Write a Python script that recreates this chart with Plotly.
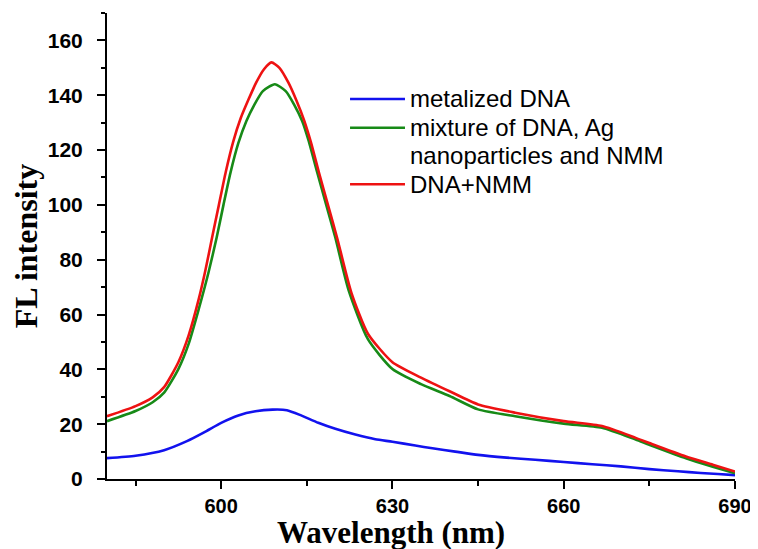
import plotly.graph_objects as go

# ---- data ----
wl_metal = [580, 585, 590, 594, 597, 600, 603, 606, 609, 611.5, 614, 617, 620, 623.5, 627,
            630, 634, 637, 641, 645, 650, 655, 660, 665, 670, 675, 680, 684, 687, 690]
fl_metal = [7.6, 8.5, 10.5, 13.8, 17.0, 20.5, 23.2, 24.7, 25.3, 25.1, 23.2, 20.5, 18.3, 16.2, 14.5,
            13.6, 12.2, 11.2, 10.0, 8.8, 7.8, 7.0, 6.2, 5.4, 4.6, 3.6, 2.8, 2.2, 1.8, 1.4]

wl_mix = [580, 585, 588, 590, 592.5, 594.3, 596.1, 597.8, 599.2, 600.4, 601.6, 603.0, 604.4, 605.8,
          607.3, 609.4, 611.3, 612.8, 614.2, 615.3, 616.8, 618.4, 620, 622.3, 625.7, 630, 635,
          640, 645, 651.5, 660, 666.7, 672.6, 675, 681.4, 686.1, 690]
fl_mix = [21.1, 24.8, 28.0, 31.5, 40.1, 49.3, 62.2, 75.5, 88, 100, 111.5, 122.5, 130.5, 136.5,
          141.5, 144, 141.5, 136.5, 130.5, 123.5, 112, 100, 88, 69, 51, 40.1, 34.6,
          30.3, 25.4, 22.9, 20.2, 18.7, 14.4, 12.5, 7.6, 4.5, 2.1]

wl_nmm = [580, 585, 588, 590, 592.5, 594.3, 596.1, 597.2, 598.4, 599.6, 600.8, 602.1, 603.4,
          604.8, 606.1, 607.5, 608.8, 610.2, 611.8, 613.2, 614.5, 615.7, 617.1, 618.7, 620.3,
          622.8, 625.7, 630, 635, 640, 645, 651.5, 660, 666.7, 672.6, 675, 681.4, 686.1, 690]
fl_nmm = [22.9, 26.6, 29.8, 33.5, 42.6, 52.4, 65.9, 75.8, 88, 100, 112, 123, 131.5,
          138.5, 144.5, 149.5, 152, 150, 144.5, 138, 131, 123, 112, 100, 88,
          68, 53, 42.6, 37, 32, 27.2, 24.2, 21.1, 19.3, 15, 13.1, 8.2, 5.2, 2.7]

series_names = ["metalized DNA", "mixture of DNA, Ag nanoparticles and NMM", "DNA+NMM"]
legend_lines = [["metalized DNA"], ["mixture of DNA, Ag", "nanoparticles and NMM"], ["DNA+NMM"]]
colors = ["#1212ee", "#178a17", "#ee1212"]

x_ticks = [600, 630, 660, 690]
y_ticks = [0, 20, 40, 60, 80, 100, 120, 140, 160]

fig = go.Figure()
for wl, fl, nm, col in [(wl_metal, fl_metal, series_names[0], colors[0]),
                        (wl_mix, fl_mix, series_names[1], colors[1]),
                        (wl_nmm, fl_nmm, series_names[2], colors[2])]:
    fig.add_trace(go.Scatter(x=wl, y=fl, mode="lines", name=nm, showlegend=False,
                             line=dict(color=col, width=2.6, shape="spline", smoothing=0.6)))

tickfont = dict(family="Arial, Liberation Sans, sans-serif", size=20, color="black", weight="bold")
titlefont = dict(family="Times New Roman, Liberation Serif, serif", size=32, color="black", weight="bold")
xtitlefont = dict(family="Times New Roman, Liberation Serif, serif", size=31, color="black", weight="bold")
legfont = dict(family="Arial, Liberation Sans, sans-serif", size=24, color="black")

# legend drawn as line samples + text (layout positions in paper units)
shapes = []
annotations = []
leg_line_y = [0.8155, 0.7539, 0.6324]
row_step = 0.0595
for i, col in enumerate(colors):
    shapes.append(dict(type="line", xref="paper", yref="paper",
                       x0=0.387, x1=0.4745, y0=leg_line_y[i], y1=leg_line_y[i],
                       line=dict(color=col, width=2.6)))
    for j, txt in enumerate(legend_lines[i]):
        annotations.append(dict(text=txt, xref="paper", yref="paper",
                                x=0.479, y=leg_line_y[i] - j * row_step,
                                xanchor="left", yanchor="middle", showarrow=False,
                                font=legfont))

annotations.append(dict(text="Wavelength (nm)", xref="paper", yref="paper",
                        x=0.452, y=-0.1145, xanchor="center", yanchor="middle",
                        showarrow=False, font=xtitlefont))

# the page body adds an 8 px margin, so the figure is sized to end at the window edge
fig.update_layout(
    width=750, height=541,
    margin=dict(l=99, r=23, t=5, b=70, autoexpand=False),
    paper_bgcolor="white", plot_bgcolor="white",
    showlegend=False,
    xaxis=dict(range=[580, 690], tickvals=x_ticks, ticktext=[str(v) for v in x_ticks],
               automargin=False, ticklabeloverflow="allow",
               showgrid=False, zeroline=False, showline=True, linecolor="black", linewidth=2,
               ticks="outside", ticklen=8, tickwidth=2, tickcolor="black",
               minor=dict(tickvals=[585, 615, 645, 675], ticks="outside", ticklen=5,
                          tickwidth=2, tickcolor="black", showgrid=False),
               tickfont=tickfont, ticklabelstandoff=0),
    yaxis=dict(range=[0, 170], tickvals=y_ticks, ticktext=[str(v) for v in y_ticks],
               automargin=False,
               showgrid=False, zeroline=False, showline=True, linecolor="black", linewidth=2,
               ticks="outside", ticklen=8, tickwidth=2, tickcolor="black",
               minor=dict(dtick=10, tick0=0, ticks="outside", ticklen=4,
                          tickwidth=2, tickcolor="black", showgrid=False),
               tickfont=dict(family="Arial, Liberation Sans, sans-serif", size=21,
                             color="black", weight="bold"),
               ticklabelstandoff=10,
               title=dict(text="FL intensity", font=titlefont, standoff=14)),
    shapes=shapes,
    annotations=annotations,
)

fig.write_html("out.html")
